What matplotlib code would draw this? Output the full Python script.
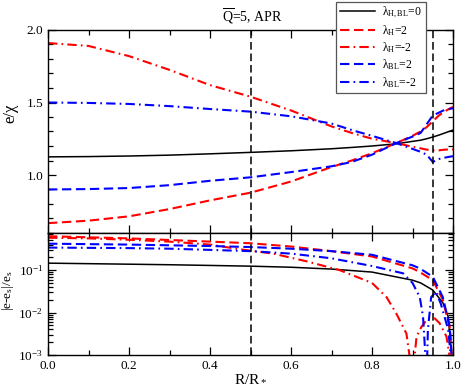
import matplotlib
matplotlib.use("Agg")
import matplotlib.pyplot as plt
from matplotlib.ticker import MultipleLocator, LogLocator, NullFormatter

plt.rcParams['font.family'] = ['Liberation Serif', 'DejaVu Serif']
plt.rcParams['mathtext.fontset'] = 'custom'
plt.rcParams['mathtext.rm'] = 'Liberation Serif'
plt.rcParams['mathtext.it'] = 'Liberation Serif:italic'
plt.rcParams['mathtext.bf'] = 'Liberation Serif:bold'

# ---------------- data: top panel (e/chi) ----------------
r_top = [0.0, 0.1, 0.2, 0.3, 0.4, 0.5, 0.6, 0.7, 0.75, 0.8, 0.86, 0.9, 0.92, 0.935, 0.95, 0.965, 0.98, 1.0]
top_black = [1.125, 1.127, 1.131, 1.137, 1.146, 1.156, 1.167, 1.181, 1.19, 1.20, 1.215, 1.232, 1.24, 1.25, 1.262, 1.275, 1.29, 1.31]
top_H_p2 = [0.668, 0.685, 0.715, 0.765, 0.825, 0.878, 0.955, 1.055, 1.10, 1.15, 1.22, 1.27, 1.30, 1.33, 1.37, 1.41, 1.44, 1.47]
top_H_m2 = [1.91, 1.89, 1.82, 1.725, 1.62, 1.54, 1.445, 1.335, 1.29, 1.25, 1.22, 1.195, 1.184, 1.175, 1.17, 1.17, 1.175, 1.177]
top_BL_p2 = [0.90, 0.903, 0.91, 0.93, 0.96, 0.984, 1.02, 1.06, 1.09, 1.14, 1.22, 1.265, 1.29, 1.35, 1.41, 1.43, 1.45, 1.46]
top_BL_m2 = [1.50, 1.497, 1.49, 1.475, 1.455, 1.437, 1.405, 1.355, 1.31, 1.27, 1.22, 1.18, 1.16, 1.14, 1.09, 1.11, 1.12, 1.13]

# ---------------- data: bottom panel |e-e_s|/e_s ----------------
r_b_black = [0.0, 0.1, 0.2, 0.3, 0.4, 0.5, 0.6, 0.7, 0.8, 0.9, 0.92, 0.95, 0.975, 0.988, 1.0]
bot_black = [0.146, 0.142, 0.138, 0.134, 0.129, 0.124, 0.117, 0.106, 0.09, 0.058, 0.05, 0.034, 0.017, 0.008, 0.0005]

r_b_H_p2 = [0.0, 0.2, 0.4, 0.5, 0.6, 0.7, 0.8, 0.9, 0.918, 0.95, 0.975, 0.992, 1.0]
bot_H_p2 = [0.63, 0.56, 0.47, 0.43, 0.36, 0.28, 0.21, 0.11, 0.09, 0.058, 0.02, 0.0045, 0.0003]

r_b_H_m2 = [0.0, 0.1, 0.2, 0.3, 0.4, 0.474, 0.556, 0.64, 0.72, 0.8, 0.836, 0.86, 0.885, 0.9,
            0.91, 0.922, 0.938, 0.955, 0.967, 0.984, 0.996]
bot_H_m2 = [0.58, 0.56, 0.52, 0.47, 0.40, 0.31, 0.245, 0.16, 0.10, 0.05, 0.023, 0.0095, 0.0032, 0.0003,
            0.0027, 0.0046, 0.0073, 0.0073, 0.0056, 0.0027, 0.0005]

r_b_BL_p2 = [0.0, 0.2, 0.4, 0.5, 0.6, 0.7, 0.8, 0.9, 0.918, 0.95, 0.975, 0.992, 1.0]
bot_BL_p2 = [0.42, 0.40, 0.37, 0.35, 0.32, 0.28, 0.23, 0.13, 0.11, 0.07, 0.023, 0.0046, 0.0003]

r_b_BL_m2 = [0.0, 0.1, 0.2, 0.3, 0.4, 0.5, 0.6, 0.7, 0.8, 0.877, 0.9, 0.918, 0.926, 0.935,
             0.938, 0.946, 0.958, 0.97, 0.988, 1.0]
bot_BL_m2 = [0.34, 0.335, 0.33, 0.32, 0.30, 0.28, 0.245, 0.19, 0.125, 0.084, 0.05, 0.023, 0.008, 0.0003,
             0.0039, 0.023, 0.031, 0.016, 0.004, 0.0003]

vlines = [0.5, 0.95]
labels = [r"λ$_{\rm H,BL}$=0", r"λ$_{\rm H}$=2", r"λ$_{\rm H}$=-2", r"λ$_{\rm BL}$=2", r"λ$_{\rm BL}$=-2"]

RED = '#ff0000'
BLUE = '#0000ff'
DASH = (4.5, 2.2)
DASHDOT = (4.5, 2.0, 0.8, 2.0)
LW = 1.5

fig = plt.figure(figsize=(4.63, 3.88), dpi=100)
L, W = 48 / 463, 405 / 463
ax1 = fig.add_axes([L, 1 - 233 / 388, W, 203 / 388])
ax2 = fig.add_axes([L, 1 - 355 / 388, W, 122 / 388])

styles = [('k', None), (RED, DASH), (RED, DASHDOT), (BLUE, DASH), (BLUE, DASHDOT)]
top_series = [top_black, top_H_p2, top_H_m2, top_BL_p2, top_BL_m2]
bot_series = [(r_b_black, bot_black), (r_b_H_p2, bot_H_p2), (r_b_H_m2, bot_H_m2),
              (r_b_BL_p2, bot_BL_p2), (r_b_BL_m2, bot_BL_m2)]

handles = []
for (c, d), y, lab in zip(styles, top_series, labels):
    ln, = ax1.plot(r_top, y, color=c, lw=(1.1 if d is None else LW), label=lab)
    if d is not None:
        ln.set_dashes(d)
    handles.append(ln)

for (c, d), (rx, y) in zip(styles, bot_series):
    ln, = ax2.plot(rx, y, color=c, lw=(1.1 if d is None else LW))
    if d is not None:
        ln.set_dashes(d)

for ax in (ax1, ax2):
    for xv in vlines:
        ax.axvline(xv, color='k', lw=1.1, dashes=(5, 2.5))
    ax.set_xlim(0, 1)
    ax.xaxis.set_major_locator(MultipleLocator(0.2))
    ax.xaxis.set_minor_locator(MultipleLocator(0.1))
    ax.tick_params(which='both', direction='in', top=True, right=True, labelsize=9.5, width=0.9)
    ax.tick_params(which='major', length=6)
    ax.tick_params(which='minor', length=3.5)
    for s in ax.spines.values():
        s.set_linewidth(1.0)

ax1.set_ylim(0.6, 2.0)
ax1.yaxis.set_major_locator(MultipleLocator(0.5))
ax1.yaxis.set_minor_locator(MultipleLocator(0.1))
ax1.tick_params(labelbottom=False)
ax1.set_ylabel("e/χ", fontsize=12)
ax1.yaxis.set_label_coords(-0.072, 0.59)

ax2.set_yscale('log')
ax2.set_ylim(1e-3, 0.75)
ax2.yaxis.set_major_locator(LogLocator(base=10, numticks=10))
ax2.yaxis.set_minor_locator(LogLocator(base=10, subs=range(2, 10), numticks=10))
ax2.yaxis.set_minor_formatter(NullFormatter())
ax2.set_xticks([0.0, 0.2, 0.4, 0.6, 0.8, 1.0])
ax2.set_xticklabels(["0.0", "0.2", "0.4", "0.6", "0.8", "1.0"])
ax2.set_xlabel(r"R/R$_*$", fontsize=11, labelpad=0)
ax2.set_ylabel(r"|e-e$_{\rm s}$|/e$_{\rm s}$", fontsize=9.5)
ax2.yaxis.set_label_coords(-0.078, 0.53)

fig.text(252 / 463, 1 - 17 / 388, r"$\overline{\rm Q}$=5, APR", ha='center', va='center', fontsize=10)

leg = fig.legend(handles=handles, loc='upper left', bbox_to_anchor=(336 / 463, 1 - 1.5 / 388),
                 bbox_transform=fig.transFigure, fontsize=8.5, handlelength=3.0, handletextpad=0.6,
                 borderpad=0.3, labelspacing=0.22, borderaxespad=0, fancybox=False, framealpha=1,
                 edgecolor='#555555')
leg.get_frame().set_linewidth(0.9)

fig.savefig("out.png", dpi=100)
